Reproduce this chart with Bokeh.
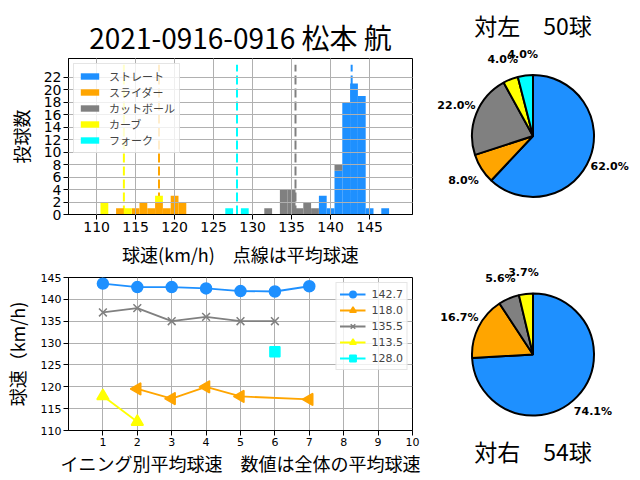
import math
from bokeh.plotting import figure
from bokeh.models import (Range1d, ColumnDataSource, FixedTicker, Legend, LegendItem)
from bokeh.layouts import column, row
from bokeh.embed import file_html
from bokeh.resources import INLINE
from bokeh.core.properties import value

# ---------------- data ----------------
TITLE = "2021-0916-0916 松本 航"
PITCH_TYPES = ["ストレート", "スライダー", "カットボール", "カーブ", "フォーク"]
COLORS = ["#1E90FF", "#FFA500", "#808080", "#FFFF00", "#00FFFF"]

# histogram: speed bins (km/h) and pitch counts per type
STRAIGHT_SPEED = [139, 140, 141, 142, 143, 144, 145, 147]
STRAIGHT_COUNT = [3, 1, 7, 18, 21, 19, 1, 1]
SLIDER_SPEED = [113, 115, 116, 117, 118, 119, 120, 121]
SLIDER_COUNT = [1, 1, 2, 1, 2, 1, 3, 2]
CUT_SPEED = [132, 134, 135, 136, 137, 138, 141]
CUT_COUNT = [1, 4, 4, 1, 2, 1, 1]
CURVE_SPEED = [111, 114, 118]
CURVE_COUNT = [2, 1, 1]
FORK_SPEED = [127, 129]
FORK_COUNT = [1, 1]

MEAN_SPEED = [142.7, 118.0, 135.5, 113.5, 128.0]

HIST_XTICKS = [110, 115, 120, 125, 130, 135, 140, 145]
HIST_YTICKS = [0, 2, 4, 6, 8, 10, 12, 14, 16, 18, 20, 22]

# inning averages
STRAIGHT_INN = [1, 2, 3, 4, 5, 6, 7]
STRAIGHT_AVG = [143.6, 142.8, 142.8, 142.5, 141.9, 141.8, 143.0]
SLIDER_INN = [2, 3, 4, 5, 7]
SLIDER_AVG = [119.5, 117.3, 120.0, 117.8, 117.1]
CUT_INN = [1, 2, 3, 4, 5, 6]
CUT_AVG = [137.0, 138.0, 135.0, 136.0, 135.0, 135.0]
CURVE_INN = [1, 2]
CURVE_AVG = [117.9, 112.0]
FORK_INN = [6]
FORK_AVG = [128.0]
LINE_XTICKS = [1, 2, 3, 4, 5, 6, 7, 8, 9, 10]
LINE_YTICKS = [110, 115, 120, 125, 130, 135, 140, 145]

# pies
LEFT_TITLE = "対左　50球"
LEFT_COUNTS = [31, 4, 11, 2, 2]
RIGHT_TITLE = "対右　54球"
RIGHT_COUNTS = [40, 9, 3, 2, 0]

JP = "Noto Sans CJK JP"
DV = "DejaVu Sans"

# layout (page pixels)
TOP_Y0, TOP_Y1, BOT_Y1 = 0, 271, 478
PIE_SPLIT = 260
LEFT_W, PIE_W = 428, 208
H_TOP, H_BOT = 58, 214     # histogram frame
L_TOP, L_BOT = 277, 430    # line chart frame


def style_axes(p, tick_size):
    p.outline_line_color = "black"
    p.outline_line_width = 1
    for ax in (p.xaxis, p.yaxis):
        ax.axis_line_color = "black"
        ax.major_tick_line_color = "black"
        ax.major_tick_out = 5
        ax.major_tick_in = 0
        ax.minor_tick_line_color = None
        ax.major_label_text_font = DV
        ax.major_label_text_font_size = tick_size
        ax.major_label_text_color = "black"
        ax.major_label_standoff = 2
        ax.axis_label_text_font = JP
        ax.axis_label_text_font_size = "18px"
        ax.axis_label_text_font_style = "normal"
        ax.axis_label_text_color = "black"
    p.grid.grid_line_color = "#b0b0b0"
    p.grid.grid_line_width = 1


# ---------------- histogram ----------------
bins = list(range(110, 148))
series = [(STRAIGHT_SPEED, STRAIGHT_COUNT), (SLIDER_SPEED, SLIDER_COUNT),
          (CUT_SPEED, CUT_COUNT), (CURVE_SPEED, CURVE_COUNT), (FORK_SPEED, FORK_COUNT)]
hist = {"x": bins}
keys = []
for i, (sp, ct) in enumerate(series):
    d = dict(zip(sp, ct))
    k = f"s{i}"
    keys.append(k)
    hist[k] = [d.get(b, 0) for b in bins]
src = ColumnDataSource(hist)

p1 = figure(width=LEFT_W, height=TOP_Y1 - TOP_Y0, x_range=Range1d(106.4, 150.5), y_range=Range1d(0, 25),
            output_backend="svg", toolbar_location=None,
            min_border_left=64, min_border_right=16,
            min_border_top=H_TOP - TOP_Y0, min_border_bottom=TOP_Y1 - H_BOT)
p1.title.text = TITLE
p1.title.text_font = JP
p1.title.text_font_size = "28px"
p1.title.text_font_style = "normal"
p1.title.text_color = "black"
p1.title.align = "center"
p1.title.standoff = 4

p1.segment(x0=MEAN_SPEED, y0=[0] * 5, x1=MEAN_SPEED, y1=[24] * 5, line_color=COLORS,
           line_width=2, line_dash="9 4")
p1.vbar_stack(keys, x="x", width=1.0, source=src, fill_color=COLORS, line_color=None,
              legend_label=PITCH_TYPES)
style_axes(p1, "14px")
p1.grid.level = "guide"
p1.xaxis.ticker = FixedTicker(ticks=HIST_XTICKS)
p1.yaxis.ticker = FixedTicker(ticks=HIST_YTICKS)
p1.xaxis.axis_label = "球速(km/h)　点線は平均球速"
p1.yaxis.axis_label = "投球数"
p1.xaxis.axis_label_standoff = 6
p1.yaxis.axis_label_standoff = 7

lg = p1.legend[0]
lg.location = "top_left"
lg.margin = 5
lg.padding = 4
lg.spacing = 0
lg.glyph_width = 23
lg.glyph_height = 8
lg.label_height = 12
lg.label_standoff = 8
lg.label_text_font = JP
lg.label_text_font_size = "11px"
lg.border_line_color = "#cccccc"
lg.background_fill_alpha = 0.8

# ---------------- inning line chart ----------------
p2 = figure(width=LEFT_W, height=BOT_Y1 - TOP_Y1, x_range=Range1d(0, 10), y_range=Range1d(110, 145),
            output_backend="svg", toolbar_location=None,
            min_border_left=64, min_border_right=16,
            min_border_top=L_TOP - TOP_Y1, min_border_bottom=BOT_Y1 - L_BOT)
line_series = [(STRAIGHT_INN, STRAIGHT_AVG, "circle", 0, 11),
               (SLIDER_INN, SLIDER_AVG, "triangle", math.pi / 2, 12),
               (CUT_INN, CUT_AVG, "x", 0, 11),
               (CURVE_INN, CURVE_AVG, "triangle", 0, 12),
               (FORK_INN, FORK_AVG, "square", 0, 10)]
items = []
for i, (xs, ys, mk, ang, sz) in enumerate(line_series):
    rl = p2.line(xs, ys, line_color=COLORS[i], line_width=1.8)
    rm = p2.scatter(xs, ys, marker=mk, angle=ang, size=sz, fill_color=COLORS[i],
                    line_color=COLORS[i], line_width=1.5)
    items.append(LegendItem(label=f"{MEAN_SPEED[i]:.1f}", renderers=[rl, rm]))
leg2 = Legend(items=items, location="top_right", margin=5, padding=3, spacing=0,
              glyph_width=26, glyph_height=16, label_height=16, label_standoff=6,
              label_text_font=DV, label_text_font_size="11px",
              border_line_color="#cccccc", background_fill_alpha=0.8)
p2.add_layout(leg2)
style_axes(p2, "11px")
p2.xaxis.ticker = FixedTicker(ticks=LINE_XTICKS)
p2.yaxis.ticker = FixedTicker(ticks=LINE_YTICKS)
p2.xaxis.axis_label = "イニング別平均球速　数値は全体の平均球速"
p2.yaxis.axis_label = "球速（km/h)"
p2.xaxis.axis_label_standoff = 1
p2.yaxis.axis_label_standoff = 8


# ---------------- pies ----------------
def pie(counts, title, fig_top, fig_bot, cy, title_y):
    x0 = LEFT_W
    p = figure(width=PIE_W, height=fig_bot - fig_top, x_range=Range1d(x0, x0 + PIE_W),
               y_range=Range1d(-fig_bot, -fig_top),
               output_backend="svg", toolbar_location=None, x_axis_type=None, y_axis_type=None,
               min_border=0)
    p.outline_line_color = None
    p.grid.visible = False
    cx, r = 532.5, 61
    total = sum(counts)
    cum = 0
    starts, ends, cols, lx, ly, lt = [], [], [], [], [], []
    for c, col in zip(counts, COLORS):
        if c == 0:
            continue
        a0 = math.pi / 2 - 2 * math.pi * cum / total
        cum += c
        a1 = math.pi / 2 - 2 * math.pi * cum / total
        starts.append(a1)
        ends.append(a0)
        cols.append(col)
        mid = (a0 + a1) / 2
        lx.append(cx + 1.35 * r * math.cos(mid))
        ly.append(-cy + 1.35 * r * math.sin(mid))
        lt.append(f"{100 * c / total:.1f}%")
    p.wedge(x=cx, y=-cy, radius=r, start_angle=starts, end_angle=ends, fill_color=cols,
            line_color="black", line_width=2)
    p.text(x=lx, y=ly, text=lt, text_align="center", text_baseline="middle",
           text_font=value(DV), text_font_style="bold", text_font_size="11px", text_color="black")
    p.text(x=[cx], y=[-title_y], text=[title], text_align="center", text_baseline="middle",
           text_font=value(JP), text_font_size="23px", text_color="black")
    return p


pie1 = pie(LEFT_COUNTS, LEFT_TITLE, TOP_Y0, PIE_SPLIT, 135.5, 24)
pie2 = pie(RIGHT_COUNTS, RIGHT_TITLE, PIE_SPLIT, BOT_Y1, 354, 450)

layout = row(column(p1, p2), column(pie1, pie2))
open("out.html", "w").write(file_html(layout, INLINE))
